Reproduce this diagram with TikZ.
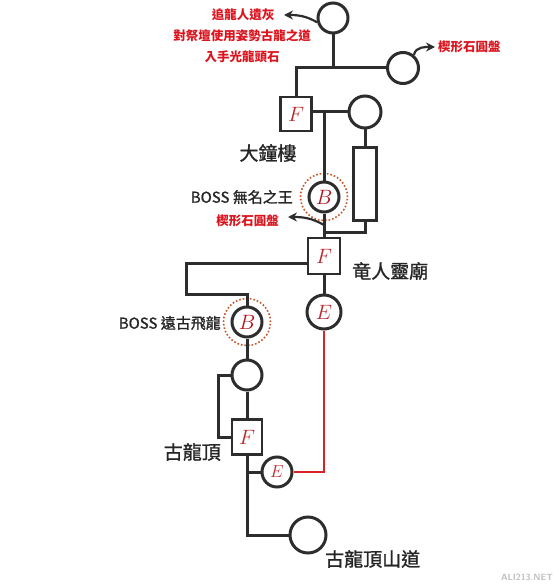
\documentclass[tikz,border=0pt]{standalone}
\usepackage{fontspec}
\newfontfamily\cjk{Noto Sans CJK TC}
\newfontfamily\cjkm[FakeBold=1.2]{Noto Sans CJK TC}
\usetikzlibrary{arrows.meta}
\definecolor{lne}{RGB}{45, 45, 45}
\definecolor{lbl}{RGB}{220, 20, 30}
\definecolor{ltr}{RGB}{185, 40, 45}
\definecolor{rng}{RGB}{200, 85, 35}
\definecolor{redpath}{RGB}{215, 35, 40}
\tikzset{
  pt/.style={circle,draw=lne,line width=3pt,inner sep=0pt},
  box/.style={rectangle,draw=lne,line width=2.6pt,inner sep=0pt,fill=white},
  ring/.style={circle,draw=rng,line width=1.6pt,dotted,inner sep=0pt},
  ltx/.style={text=ltr,font=\fontsize{21}{21}\selectfont},
  redtx/.style={text=lbl,font=\cjk\bfseries\fontsize{12.5}{13}\selectfont,inner sep=0pt},
  bigtx/.style={text=black!85,font=\cjkm\fontsize{19}{20}\selectfont,inner sep=0pt},
  bosstx/.style={text=black!85,font=\cjkm\fontsize{15}{16}\selectfont,inner sep=0pt},
  arr/.style={lne,line width=2.2pt,-{Stealth[length=9pt,width=9pt]}}
}

\begin{document}
\begin{tikzpicture}[x=1pt,y=-1pt]
\useasboundingbox (0,0) rectangle (558,588);
\node[pt,minimum size=30pt] (c1) at (333,18) {};
\node[pt,minimum size=31pt] (c2) at (403,68) {};
\node[box,minimum width=31pt,minimum height=34pt,ltx] (f1) at (296,114) {$F$};
\node[pt,minimum size=32pt] (c3) at (365,112) {};
\node[ring,minimum size=47pt] (b1r) at (324,197) {};
\node[pt,minimum size=30pt,ltx,text=lbl!80!black] (b1) at (324,197) {$B$};
\node[box,minimum width=23pt,minimum height=73pt] (r1) at (365,184) {};
\node[box,minimum width=32pt,minimum height=36pt,ltx] (f2) at (324,256) {$F$};
\node[pt,minimum size=34pt,ltx] (e1) at (324,312) {$E$};
\node[ring,minimum size=47pt] (b2r) at (247,322) {};
\node[pt,minimum size=30pt,ltx,text=lbl!80!black] (b2) at (247,322) {$B$};
\node[pt,minimum size=30pt] (c4) at (247,375) {};
\node[box,minimum width=30pt,minimum height=35pt,ltx] (f3) at (247,437) {$F$};
\node[pt,minimum size=30pt,ltx,font=\fontsize{18}{18}\selectfont] (e2) at (277,472) {$E$};
\node[pt,minimum width=33pt,minimum height=36pt] (c5) at (308,535) {};
\coordinate (j1) at (186,263);
\coordinate (j2) at (186,294);
\coordinate (j3) at (324,232);
\coordinate (j4) at (218,437);
\coordinate (j5) at (324,225);
\coordinate (a1) at (284,15);
\coordinate (a2) at (435,47);
\coordinate (a3) at (288,217);
\node[redtx] (t1) at (243,15) {追龍人遺灰};
\node[redtx] (t2) at (242,36) {對祭壇使用姿勢古龍之道};
\node[redtx] (t3) at (242,57) {入手光龍頭石};
\node[redtx,anchor=west] (t4) at (438,47) {楔形石圓盤};
\node[bigtx] (t5) at (268,153) {大鐘樓};
\node[bosstx,anchor=east] (t6) at (293,197) {BOSS 無名之王};
\node[redtx,anchor=east] (t7) at (279,221) {楔形石圓盤};
\node[bigtx,anchor=west] (t8) at (352,271) {竜人靈廟};
\node[bosstx,anchor=east] (t9) at (221,323) {BOSS 遠古飛龍};
\node[bigtx,anchor=east] (t10) at (221,452) {古龍頂};
\node[bigtx,anchor=west] (t11) at (325,559) {古龍頂山道};
\node[text=black!25,font=\sffamily\bfseries\fontsize{9}{9}\selectfont] (wm) at (527,577) {ALI213.NET};
\begin{scope}[lne,line width=3pt]
\draw (c1.south) -- (c1 |- c2.west);
\draw (f1.north) |- (c2.west);
\draw (f1.east |- c3.west) -- (c3.west);
\draw (b1 |- c3.west) -- (b1.north);
\draw (c3.south) -- (r1.north);
\draw (r1.south) |- (j3);
\draw (b1.south) -- (f2.north);
\draw (f2.west |- j1) -- (j1) -- (j2) -| (b2.north);
\draw (f2.south) -- (e1.north);
\draw (b2.south) -- (c4.north);
\draw (c4.west) -| (j4) -- (f3.west);
\draw (c4.south) -- (f3.north);
\draw (f3.south) |- (c5.west);
\draw (f3.south |- e2.west) -- (e2.west);
\end{scope}
\draw[redpath,line width=2.8pt] (e1.south) |- (e2.east);
\draw[arr] (c1.195) to[out=150,in=0] (a1);
\draw[arr] (c2.50) to[out=80,in=180] (a2);
\draw[arr] (j5) to[out=150,in=0] (a3);
\end{tikzpicture}
\end{document}
